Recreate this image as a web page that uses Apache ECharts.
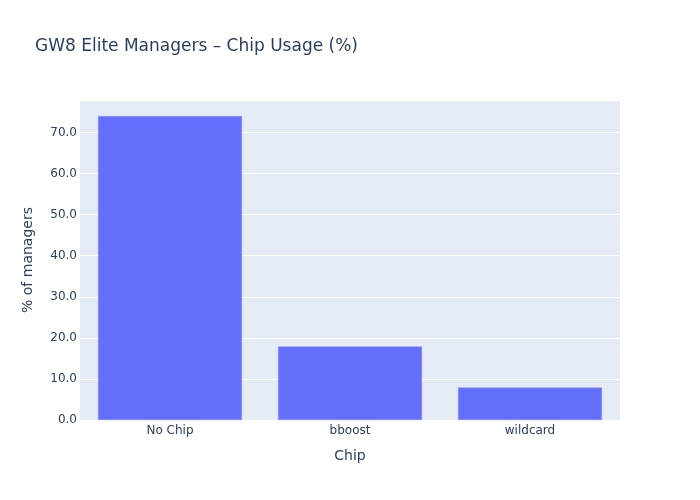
<!DOCTYPE html>
<html>
<head>
<meta charset="utf-8">
<script src="https://cdn.jsdelivr.net/npm/echarts@6/dist/echarts.min.js"></script>
<style>html,body{margin:0;padding:0;background:#fff}#c{width:700px;height:500px}</style>
</head>
<body>
<div id="c"></div>
<script>
var categories = ["No Chip", "bboost", "wildcard"];
var values = [74.0, 17.9, 7.9];
var yTicks = [0, 10, 20, 30, 40, 50, 60, 70];

var chart = echarts.init(document.getElementById('c'));
var font = '"DejaVu Sans", verdana, arial, sans-serif';
chart.setOption({
  animation: false,
  textStyle: { fontFamily: font },
  title: {
    text: 'GW8 Elite Managers – Chip Usage (%)',
    left: 30, top: 33,
    textStyle: { fontFamily: font, fontSize: 17, fontWeight: 'normal', color: '#2a3f5f' }
  },
  grid: { left: 80, right: 80, top: 100, bottom: 80, show: true, backgroundColor: '#E5ECF6', borderWidth: 0 },
  xAxis: {
    type: 'category',
    data: categories,
    name: 'Chip',
    nameLocation: 'middle',
    nameGap: 29,
    nameTextStyle: { fontFamily: font, fontSize: 14, color: '#2a3f5f' },
    axisLine: { show: false },
    axisTick: { show: false },
    axisLabel: { fontFamily: font, fontSize: 12, color: '#2a3f5f', margin: 5 },
    splitLine: { show: false }
  },
  yAxis: {
    type: 'value',
    min: yTicks[0],
    max: 77.9,
    interval: 10,
    name: '% of managers',
    nameLocation: 'middle',
    nameGap: 45,
    nameTextStyle: { fontFamily: font, fontSize: 14, color: '#2a3f5f' },
    axisLine: { show: false },
    axisTick: { show: false },
    axisLabel: {
      fontFamily: font, fontSize: 12, color: '#2a3f5f', margin: 3, showMaxLabel: false,
      formatter: function (v) { return yTicks.indexOf(v) >= 0 ? v.toFixed(1) : ''; }
    },
    splitLine: { lineStyle: { color: '#ffffff', width: 1 } }
  },
  series: [{
    type: 'bar',
    data: values,
    barCategoryGap: '20%',
    itemStyle: { color: '#636efa', borderColor: '#8a93fb', borderWidth: 0.5 }
  }]
});
</script>
</body>
</html>
